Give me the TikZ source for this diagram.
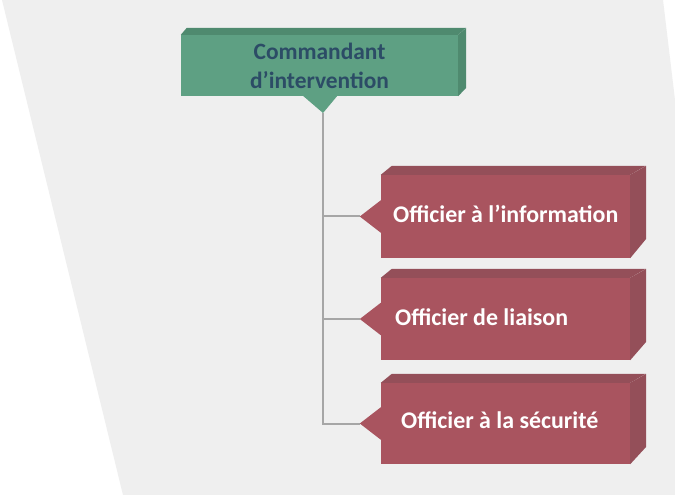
\documentclass[tikz,border=0pt]{standalone}
\usepackage{fontspec}
\setmainfont{Carlito}
\usetikzlibrary{backgrounds}
\definecolor{bgcol}{HTML}{EFEFEF}
\definecolor{gfrontcol}{HTML}{5EA083}
\definecolor{gdarkcol}{HTML}{4F8A6F}
\definecolor{gtextcol}{HTML}{2C4C66}
\definecolor{rfrontcol}{HTML}{A9545F}
\definecolor{rdarkcol}{HTML}{944F59}
\definecolor{conncol}{HTML}{A6A6A6}
\begin{document}
\begin{tikzpicture}[x=1bp,y=-1bp,
  gbox/.style={fill=gfrontcol,draw=none,inner sep=0pt,minimum width=277bp,minimum height=61bp,
    align=center,text=gtextcol,font=\fontsize{23.5}{29}\selectfont\bfseries},
  rbox/.style={fill=rfrontcol,draw=none,inner sep=0pt,minimum width=249bp},
  rtext/.style={anchor=base west,inner sep=0pt,text=white,font=\fontsize{24}{28}\selectfont\bfseries},
  conn/.style={draw=conncol,line width=2bp}]
\useasboundingbox (0,0) rectangle (675,495);
% boxes (front faces)
\node[gbox] (cmd) at (319.5,65.5) {\raisebox{0pt}[0pt][0pt]{}Commandant\\d’intervention};
\node[rbox,minimum height=83bp] (b1) at (505.5,216.5) {};
\node[rbox,minimum height=82bp] (b2) at (505.5,319) {};
\node[rbox,minimum height=81bp] (b3) at (505.5,423.5) {};
\coordinate (cmdtip) at (323,113);
\foreach \b in {b1,b2,b3}{
  \coordinate (\b tip) at ([xshift=-21bp]\b.west);
}
\begin{scope}[on background layer]
  \fill[white] (0,0) rectangle (675,495);
  \fill[bgcol] (2,0) -- (663,0) -- (675,100) -- (675,495) -- (123,495) -- cycle;
  \draw[conn] (cmdtip) -- (cmdtip |- b3tip) -- (b3tip);
  \draw[conn] (cmdtip |- b1tip) -- (b1tip);
  \draw[conn] (cmdtip |- b2tip) -- (b2tip);
\end{scope}
% green 3D faces and pointer
\fill[gdarkcol] (cmd.north west) -- ++(6,-7) -- ++(279,0) -- (cmd.north east) -- cycle;
\fill[gdarkcol] (cmd.north east) -- ++(8,-7) -- ++(0,60) -- (cmd.south east) -- cycle;
\fill[gfrontcol] (302,95) -- (338,95) -- (cmdtip) -- cycle;
% red 3D faces and pointers
\foreach \b in {b1,b2,b3}{
  \fill[rdarkcol] (\b.north west) -- ++(11,-9) -- ++(254,0) -- (\b.north east) -- cycle;
  \fill[rdarkcol] (\b.north east) -- ++(16,-9) -- ++(0,73) -- (\b.south east) -- cycle;
  \fill[rfrontcol] ([xshift=1bp,yshift=17bp]\b.west) -- (\b tip) -- ([xshift=1bp,yshift=-17bp]\b.west) -- cycle;
}
% labels
\node[rtext] (t1) at (393,223) {Officier à l’information};
\node[rtext] (t2) at (395,325) {Officier de liaison};
\node[rtext] (t3) at (401,428) {Officier à la sécurité};
\end{tikzpicture}
\end{document}
